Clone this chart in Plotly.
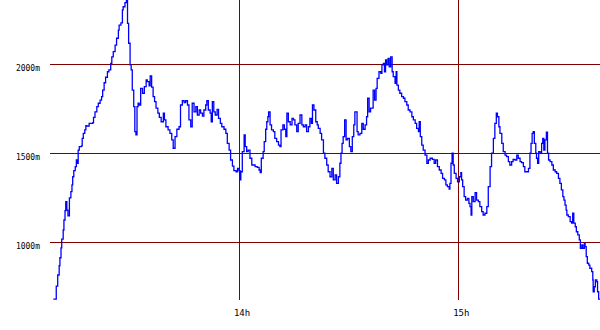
import plotly.graph_objects as go

# time in minutes after 13:00
minutes_after_13h = [
    9.2, 9.9, 10.0, 10.4, 10.8, 11.0, 11.3, 11.5, 11.9, 12.1, 12.4, 12.6, 12.9, 13.2, 13.6, 14.0,
    14.3, 14.5, 14.8, 15.2, 15.5, 15.8, 16.0, 16.3, 16.9, 17.1, 17.4, 17.8, 18.1, 18.3, 19.0, 20.0,
    20.2, 20.6, 21.1, 21.5, 22.0, 22.4, 22.7, 23.1, 23.5, 24.0, 24.4, 24.9, 25.2, 25.6, 26.1, 26.5,
    27.0, 27.2, 27.7, 28.1, 28.3, 28.8, 29.2, 29.4, 29.5, 29.8, 30.2, 30.5, 30.8, 31.2, 31.5, 31.8,
    32.1, 32.4, 32.7, 33.1, 33.6, 34.1, 34.6, 34.9, 35.4, 35.7, 36.1, 36.5, 36.9, 37.3, 37.8, 38.2,
    38.7, 39.3, 39.6, 40.0, 40.6,
    41.1, 41.6, 42.0, 42.5, 43.0, 43.6, 44.0, 44.5, 45.0, 45.4, 45.9, 46.3, 46.8, 47.2, 47.7, 48.2,
    48.6, 49.1, 49.5, 50.0, 50.4, 50.9, 51.2, 51.6, 52.1, 52.4, 52.7, 53.1, 53.5, 54.0, 54.4, 54.9,
    55.3, 55.9, 56.4, 56.8, 57.3, 57.7, 58.2, 58.6, 59.2, 59.6, 60.0, 60.3, 60.5, 60.9, 61.4, 61.7,
    62.1, 62.5, 63.0, 63.5, 64.4, 65.0, 65.5, 65.8, 66.1, 66.6, 66.9, 67.3, 67.6, 67.9, 68.1, 68.5,
    68.9, 69.4, 69.8, 70.3, 70.8, 71.2, 71.5, 72.0, 72.4, 72.8, 73.1, 73.5, 74.0, 74.5, 74.9, 75.3,
    75.8, 76.2, 76.7, 77.2, 77.6, 78.1, 78.5, 79.0,
    79.4, 79.8, 80.1, 80.5, 81.0, 81.4, 81.7, 82.2, 82.6, 83.1, 83.5, 84.0, 84.4, 84.9, 85.4, 85.8,
    86.3, 86.7, 87.2, 87.6, 87.9, 88.2, 88.5, 88.9, 89.3, 89.7, 90.2, 90.6, 91.0, 91.4, 91.7, 92.0,
    92.3, 92.6, 93.1, 93.6, 94.0, 94.5, 94.9, 95.2, 95.6, 96.0, 96.5, 96.7, 97.1, 97.5, 97.8, 98.3,
    98.8, 99.1, 99.5, 99.8, 100.1, 100.4, 100.8, 101.1, 101.5, 101.9, 102.2, 102.7, 103.0, 103.2,
    103.6, 104.0, 104.5, 105.0, 105.4, 105.9, 106.3, 106.8, 107.3, 107.7, 108.2, 108.6, 109.1,
    109.3, 109.6, 110.0, 110.4, 110.9, 111.4, 111.8, 112.3, 112.9, 113.4, 113.8, 114.3, 114.8,
    115.3, 115.7, 116.2, 116.6, 117.0, 117.5, 117.7, 118.0, 118.3, 118.6, 118.9, 119.4, 119.8, 120.3,
    120.7, 120.9, 121.2, 121.6, 122.0, 122.5, 122.9, 123.2, 123.5, 123.7, 124.1, 124.6, 125.0,
    125.5, 125.9, 126.4, 126.8, 127.3, 127.8, 128.2, 128.7, 129.1, 129.6, 130.0, 130.4, 130.7,
    131.1, 131.4, 131.9, 132.3, 132.8, 133.2, 133.7, 134.1, 134.6, 135.0, 135.5, 136.0, 136.4,
    136.9, 137.3, 137.8, 138.2, 138.7, 139.2, 139.6, 139.9, 140.2, 140.5, 140.8, 141.2, 141.4,
    141.7, 142.0, 142.4, 142.8, 143.1, 143.4, 143.7, 144.1, 144.4, 144.7, 145.1, 145.6, 146.0,
    146.5, 146.9, 147.4, 147.8, 148.2, 148.6, 148.9, 149.2, 149.5, 149.7, 150.1, 150.6, 151.0,
    151.3, 151.6, 152.0, 152.3, 152.7, 153.1, 153.4, 153.8, 154.1, 154.5, 154.7, 155.0, 155.3,
    155.7, 156.0, 156.5, 156.8, 156.9, 157.2, 157.5, 157.9, 158.1, 158.4, 158.8,
]

altitude_m = [
    680, 680, 754, 816, 868, 913, 968, 1018, 1069, 1125, 1177, 1228, 1181, 1148, 1249, 1284,
    1322, 1368, 1402, 1425, 1462, 1444, 1518, 1537, 1542, 1584, 1612, 1631, 1655, 1653, 1668, 1672,
    1702, 1733, 1762, 1781, 1799, 1818, 1855, 1896, 1927, 1958, 1968, 2005, 2042, 2071, 2108, 2146,
    2192, 2220, 2233, 2305, 2323, 2346, 2358, 2358, 2230, 2118, 1996, 1968, 1855, 1762, 1621, 1603,
    1762, 1781, 1771, 1865, 1837, 1874, 1912, 1902, 1878, 1934, 1871, 1818, 1790, 1753, 1725, 1702,
    1677, 1725, 1687, 1649, 1631,
    1612, 1575, 1528, 1593, 1635, 1649, 1771, 1795, 1784, 1795, 1771, 1687, 1649, 1781, 1733, 1762,
    1715, 1743, 1725, 1709, 1743, 1771, 1795, 1743, 1725, 1677, 1790, 1733, 1715, 1747, 1696, 1668,
    1649, 1635, 1612, 1556, 1518, 1462, 1428, 1402, 1396, 1415, 1402, 1350, 1396, 1509, 1603, 1537,
    1509, 1518, 1472, 1434, 1425, 1421, 1406, 1391, 1472, 1509, 1565, 1635, 1677, 1705, 1733, 1659,
    1631, 1621, 1584, 1565, 1546, 1537, 1631, 1659, 1635, 1593, 1725, 1677, 1659, 1696, 1687, 1659,
    1621, 1668, 1715, 1659, 1649, 1659, 1621, 1649,
    1696, 1668, 1771, 1743, 1677, 1659, 1640, 1612, 1575, 1500, 1472, 1434, 1396, 1368, 1415, 1350,
    1378, 1331, 1368, 1444, 1500, 1556, 1593, 1687, 1575, 1584, 1537, 1509, 1593, 1659, 1733, 1733,
    1621, 1603, 1612, 1668, 1635, 1659, 1705, 1809, 1733, 1753, 1753, 1855, 1799, 1865, 1921, 1958,
    1949, 1996, 2005, 1958, 2024, 1996, 2033, 1986, 2042, 1958, 1930, 1893, 1958, 1883,
    1855, 1837, 1818, 1809, 1790, 1771, 1743, 1733, 1705, 1687, 1668, 1640, 1621,
    1677, 1593, 1546, 1518, 1490, 1444, 1462, 1472, 1466, 1444, 1462, 1425, 1406,
    1387, 1359, 1350, 1322, 1312, 1298, 1331, 1444, 1500, 1434, 1387, 1359, 1340, 1368,
    1391, 1350, 1312, 1256, 1237, 1247, 1219, 1200, 1153, 1256, 1228, 1278, 1237,
    1228, 1200, 1172, 1153, 1163, 1200, 1312, 1425, 1500, 1584, 1668, 1725, 1705,
    1649, 1612, 1556, 1509, 1490, 1481, 1453, 1434, 1453, 1466, 1462, 1490, 1472,
    1453, 1447, 1425, 1396, 1396, 1415, 1500, 1556, 1612, 1621, 1556, 1500, 1472,
    1444, 1509, 1500, 1556, 1584, 1518, 1575, 1618, 1500, 1462, 1453, 1434, 1406,
    1396, 1387, 1359, 1331, 1294, 1256, 1237, 1209, 1181, 1153, 1144, 1116, 1107,
    1163, 1107, 1087, 1059, 1041, 1013, 966, 985, 966, 994, 975, 919, 882,
    872, 854, 835, 788, 722, 750, 788, 778, 722, 680, 680,
]

x_range = [8.29, 158.77]
y_range = [675.6, 2361.0]
x_tick_values = [60, 120]
x_tick_labels = ["14h", "15h"]
y_tick_values = [1000, 1500, 2000]
y_tick_labels = ["1000m", "1500m", "2000m"]

grid_color = "#800000"

fig = go.Figure()
fig.add_trace(go.Scatter(
    x=minutes_after_13h,
    y=altitude_m,
    mode="lines",
    line=dict(color="#0000FF", width=1.3, shape="hv"),
    hoverinfo="skip",
    showlegend=False,
))

fig.update_layout(
    width=600,
    height=330,
    margin=dict(l=50, r=0, t=0, b=30),
    paper_bgcolor="white",
    plot_bgcolor="white",
    font=dict(family="DejaVu Sans Mono", color="black"),
    hovermode=False,
)
fig.update_xaxes(
    range=x_range,
    tickmode="array",
    tickvals=x_tick_values,
    ticktext=x_tick_labels,
    showgrid=True,
    gridcolor=grid_color,
    gridwidth=1,
    zeroline=False,
    showline=False,
    ticks="",
    tickfont=dict(size=9, family="DejaVu Sans Mono"),
    ticklabelshift=3,
    ticklabelstandoff=6,
)
fig.update_yaxes(
    range=y_range,
    tickmode="array",
    tickvals=y_tick_values,
    ticktext=y_tick_labels,
    showgrid=True,
    gridcolor=grid_color,
    gridwidth=1,
    zeroline=False,
    showline=False,
    ticks="",
    tickfont=dict(size=8, family="DejaVu Sans Mono"),
    ticklabelshift=4,
    ticklabelstandoff=9,
)

fig.write_html("out.html", config={"displayModeBar": False})
